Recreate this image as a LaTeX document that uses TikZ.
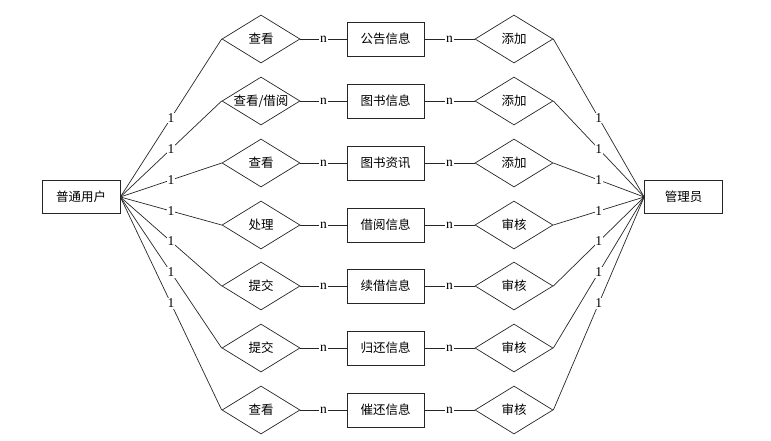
\documentclass[tikz,border=0pt]{standalone}
\usepackage{fontspec}
\setmainfont{Liberation Serif}
\newfontfamily\cjk{Noto Sans CJK SC}
\usepackage{tikz}
\usetikzlibrary{shapes.geometric,positioning}

\tikzset{
  entity/.style={draw,rectangle,minimum width=77pt,minimum height=34pt,inner sep=0pt,font=\cjk\fontsize{12.5}{14}\selectfont},
  rel/.style={draw,diamond,aspect=1.625,minimum width=78pt,minimum height=48pt,inner sep=0pt,font=\cjk\fontsize{12.5}{14}\selectfont},
  card/.style={fill=white,inner sep=0.8pt,font=\fontsize{13.5}{14}\selectfont}
}

\begin{document}
\begin{tikzpicture}[x=1pt,y=-1pt,line width=0.7pt,draw=black!85]
  \useasboundingbox (0,0) rectangle (771,440);

  % Actores
  \node[entity,minimum width=78pt,minimum height=33pt] (user)  at (81,197)    {普通用户};
  \node[entity,minimum width=78pt,minimum height=33pt] (admin) at (683.5,197) {管理员};

  % Relaciones del usuario
  \node[rel] (u1) at (261,39)  {查看};
  \node[rel] (u2) at (261,101) {查看/借阅};
  \node[rel] (u3) at (261,163) {查看};
  \node[rel] (u4) at (261,225) {处理};
  \node[rel] (u5) at (261,286) {提交};
  \node[rel] (u6) at (261,348) {提交};
  \node[rel] (u7) at (261,410) {查看};

  % Entidades
  \node[entity] (e1) at (385.5,39)  {公告信息};
  \node[entity] (e2) at (385.5,101) {图书信息};
  \node[entity] (e3) at (385.5,163) {图书资讯};
  \node[entity] (e4) at (385.5,225) {借阅信息};
  \node[entity] (e5) at (385.5,286) {续借信息};
  \node[entity] (e6) at (385.5,348) {归还信息};
  \node[entity] (e7) at (385.5,410) {催还信息};

  % Relaciones del administrador
  \node[rel] (a1) at (514,39)  {添加};
  \node[rel] (a2) at (514,101) {添加};
  \node[rel] (a3) at (514,163) {添加};
  \node[rel] (a4) at (514,225) {审核};
  \node[rel] (a5) at (514,286) {审核};
  \node[rel] (a6) at (514,348) {审核};
  \node[rel] (a7) at (514,410) {审核};

  % Usuario -> relaciones
  \path (user.east) edge node[card]{1} (u1.west);
  \path (user.east) edge node[card]{1} (u2.west);
  \path (user.east) edge node[card]{1} (u3.west);
  \path (user.east) edge node[card]{1} (u4.west);
  \path (user.east) edge node[card]{1} (u5.west);
  \path (user.east) edge node[card]{1} (u6.west);
  \path (user.east) edge node[card]{1} (u7.west);

  % Relaciones -> entidades
  \path (u1.east) edge node[card]{n} (e1.west);
  \path (u2.east) edge node[card]{n} (e2.west);
  \path (u3.east) edge node[card]{n} (e3.west);
  \path (u4.east) edge node[card]{n} (e4.west);
  \path (u5.east) edge node[card]{n} (e5.west);
  \path (u6.east) edge node[card]{n} (e6.west);
  \path (u7.east) edge node[card]{n} (e7.west);

  % Entidades -> relaciones del administrador
  \path (e1.east) edge node[card]{n} (a1.west);
  \path (e2.east) edge node[card]{n} (a2.west);
  \path (e3.east) edge node[card]{n} (a3.west);
  \path (e4.east) edge node[card]{n} (a4.west);
  \path (e5.east) edge node[card]{n} (a5.west);
  \path (e6.east) edge node[card]{n} (a6.west);
  \path (e7.east) edge node[card]{n} (a7.west);

  % Administrador
  \path (a1.east) edge node[card]{1} (admin.west);
  \path (a2.east) edge node[card]{1} (admin.west);
  \path (a3.east) edge node[card]{1} (admin.west);
  \path (a4.east) edge node[card]{1} (admin.west);
  \path (a5.east) edge node[card]{1} (admin.west);
  \path (a6.east) edge node[card]{1} (admin.west);
  \path (a7.east) edge node[card]{1} (admin.west);
\end{tikzpicture}
\end{document}
